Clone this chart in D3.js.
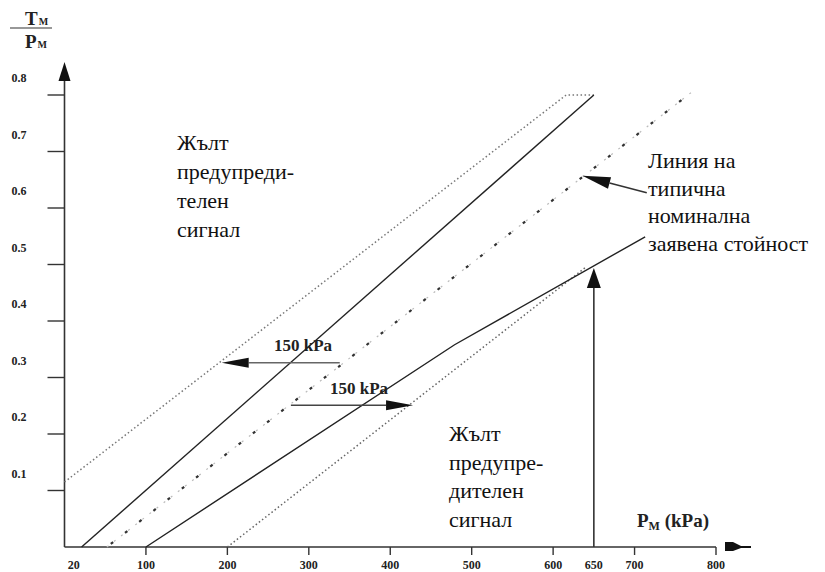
<!DOCTYPE html>
<html>
<head>
<meta charset="utf-8">
<script src="https://cdn.jsdelivr.net/npm/d3@7"></script>
<style>
  body { margin: 0; background: #fff; }
  svg text { font-family: "Liberation Serif", "Times New Roman", "DejaVu Serif", serif; }
</style>
</head>
<body>
<svg id="chart"></svg>
<script>
// tick values and labels
const xTicks = [100, 200, 300, 400, 500, 600, 700, 800];
const xExtraLabels = [{ v: 20, t: "20" }, { v: 650, t: "650" }];
const yTicks = [0.1, 0.2, 0.3, 0.4, 0.5, 0.6, 0.7, 0.8];

// lines: [kPa, Tm/Pm]
const upperDotted = [[0, 0.115], [616, 0.8], [650, 0.8]];
const upperSolid = [[21, 0], [650, 0.8]];
const nominalLine = [[52, 0], [770, 0.805]];
const lowerSolid = [[100, 0], [479, 0.358], [713, 0.549]];
const lowerDotted = [[200, 0], [639, 0.494]];

// arrows: from -> to
const arrowLeft = [[338, 0.326], [193, 0.326]];
const arrowRight = [[278, 0.251], [428, 0.251]];
const arrow650 = [[650, 0], [650, 0.494]];
const arrowNominal = [[715, 0.627], [636, 0.657]];

const FONT = '"Liberation Serif", "Times New Roman", "DejaVu Serif", serif';

const width = 825, height = 572;
const svg = d3.select("#chart").attr("width", width).attr("height", height);

const x = d3.scaleLinear().domain([0, 800]).range([64.5, 716]);
const y = d3.scaleLinear().domain([0, 0.8]).range([547, 95]);

const line = d3.line().x(d => x(d[0])).y(d => y(d[1]));

// axes
svg.append("line").attr("x1", x(0)).attr("x2", x(800)).attr("y1", y(0)).attr("y2", y(0))
    .attr("stroke", "#333").attr("stroke-width", 1.6);
svg.append("line").attr("x1", x(0)).attr("x2", x(0)).attr("y1", y(0)).attr("y2", 72)
    .attr("stroke", "#333").attr("stroke-width", 1.6);
// y axis arrow head
svg.append("path").attr("d", `M${x(0)},62 L${x(0) - 6},81 L${x(0) + 6},81 Z`).attr("fill", "#111");
// x axis odd arrow mark
const ax = x(800) + 9, ay = y(0);
svg.append("path")
    .attr("d", `M${ax},${ay - 5} L${ax + 8},${ay - 5} L${ax + 16},${ay - 1} L${ax + 26},${ay - 1} L${ax + 26},${ay + 1} L${ax + 16},${ay + 1} L${ax + 8},${ay + 4} L${ax},${ay + 4} Z`)
    .attr("fill", "#111");

// x ticks
svg.selectAll(".xt").data(xTicks).enter().append("line")
    .attr("x1", d => x(d)).attr("x2", d => x(d)).attr("y1", y(0)).attr("y2", y(0) + 8)
    .attr("stroke", "#333").attr("stroke-width", 1.4);
svg.selectAll(".xl").data(xTicks.map(v => ({ v, t: String(v) })).concat(xExtraLabels)).enter().append("text")
    .attr("x", d => d.v === 20 ? x(d.v) - 7 : x(d.v))
    .attr("y", 569)
    .attr("text-anchor", "middle")
    .style("font-family", FONT)
    .style("font-size", "12px").style("font-weight", "bold").attr("fill", "#222")
    .text(d => d.t);

// y ticks
svg.selectAll(".yt").data(yTicks).enter().append("line")
    .attr("x1", x(0) - 17).attr("x2", x(0)).attr("y1", d => y(d)).attr("y2", d => y(d))
    .attr("stroke", "#333").attr("stroke-width", 1.4);
svg.selectAll(".yl").data(yTicks).enter().append("text")
    .attr("x", 19).attr("y", d => y(d) - 13)
    .attr("text-anchor", "middle")
    .style("font-family", FONT)
    .style("font-size", "12px").style("font-weight", "bold").attr("fill", "#222")
    .text(d => d.toFixed(1));

// axis title Tm / Pm
const tt = svg.append("text").attr("x", 25).attr("y", 25).style("font-family", FONT)
    .style("font-size", "19px").style("font-weight", "bold").attr("fill", "#222");
tt.append("tspan").text("T");
tt.append("tspan").attr("dx", 1).style("font-size", "10px").text("M");
svg.append("line").attr("x1", 10).attr("x2", 52).attr("y1", 28).attr("y2", 28)
    .attr("stroke", "#333").attr("stroke-width", 1.2);
const pp = svg.append("text").attr("x", 25).attr("y", 48).style("font-family", FONT)
    .style("font-size", "19px").style("font-weight", "bold").attr("fill", "#222");
pp.append("tspan").text("P");
pp.append("tspan").attr("dx", 1).style("font-size", "10px").text("M");

// x axis title
const px = svg.append("text").attr("x", 637).attr("y", 527).style("font-family", FONT)
    .style("font-size", "19px").style("font-weight", "bold").attr("fill", "#222");
px.append("tspan").text("P");
px.append("tspan").style("font-size", "12px").attr("dy", 3).text("M");
px.append("tspan").attr("dy", -3).text(" (kPa)");

// chart lines
svg.append("path").attr("d", line(upperDotted)).attr("fill", "none")
    .attr("stroke", "#777").attr("stroke-width", 1.5).attr("stroke-dasharray", "1.5,2.5");
svg.append("path").attr("d", line(lowerDotted)).attr("fill", "none")
    .attr("stroke", "#666").attr("stroke-width", 1.5).attr("stroke-dasharray", "1.5,2.5");
svg.append("path").attr("d", line(nominalLine)).attr("fill", "none")
    .attr("stroke", "#bbb").attr("stroke-width", 1.2).attr("stroke-dasharray", "2,7");
svg.append("path").attr("d", line(nominalLine)).attr("fill", "none")
    .attr("stroke", "#333").attr("stroke-width", 2.2).attr("stroke-dasharray", "3,15")
    .attr("stroke-dashoffset", -5);
svg.append("path").attr("d", line(upperSolid)).attr("fill", "none")
    .attr("stroke", "#222").attr("stroke-width", 1.4);
svg.append("path").attr("d", line(lowerSolid)).attr("fill", "none")
    .attr("stroke", "#222").attr("stroke-width", 1.4);

// arrows
function arrow(seg, headLen, headHalf, shaftColor) {
    const x1 = x(seg[0][0]), y1 = y(seg[0][1]), x2 = x(seg[1][0]), y2 = y(seg[1][1]);
    const a = Math.atan2(y2 - y1, x2 - x1);
    const bx = x2 - headLen * Math.cos(a), by = y2 - headLen * Math.sin(a);
    svg.append("line").attr("x1", x1).attr("y1", y1).attr("x2", bx).attr("y2", by)
        .attr("stroke", shaftColor).attr("stroke-width", 1.6);
    const nx = -Math.sin(a) * headHalf, ny = Math.cos(a) * headHalf;
    svg.append("path")
        .attr("d", `M${x2},${y2} L${bx + nx},${by + ny} L${bx - nx},${by - ny} Z`)
        .attr("fill", "#111");
}
arrow(arrowLeft, 27, 5, "#666");
arrow(arrowRight, 27, 5, "#444");
arrow(arrow650, 20, 7, "#333");
arrow(arrowNominal, 28, 6, "#333");

// 150 kPa labels
svg.append("text").attr("x", 303).attr("y", 351).attr("text-anchor", "middle").style("font-family", FONT)
    .style("font-size", "17px").style("font-weight", "bold").attr("fill", "#222").text("150 kPa");
svg.append("text").attr("x", 359).attr("y", 394).attr("text-anchor", "middle").style("font-family", FONT)
    .style("font-size", "17px").style("font-weight", "bold").attr("fill", "#222").text("150 kPa");

// text blocks
function block(lines, x0, y0, dy) {
    const t = svg.append("text").attr("x", x0).attr("y", y0).style("font-family", FONT)
        .style("font-size", "22px").attr("fill", "#111");
    lines.forEach((s, i) => t.append("tspan").attr("x", x0).attr("y", y0 + i * dy).text(s));
}
block(["Жълт", "предупреди-", "телен", "сигнал"], 177, 150, 29);
block(["Жълт", "предупре-", "дителен", "сигнал"], 449, 441, 28.5);
block(["Линия на", "типична", "номинална", "заявена стойност"], 648, 168, 27.7);
</script>
</body>
</html>
